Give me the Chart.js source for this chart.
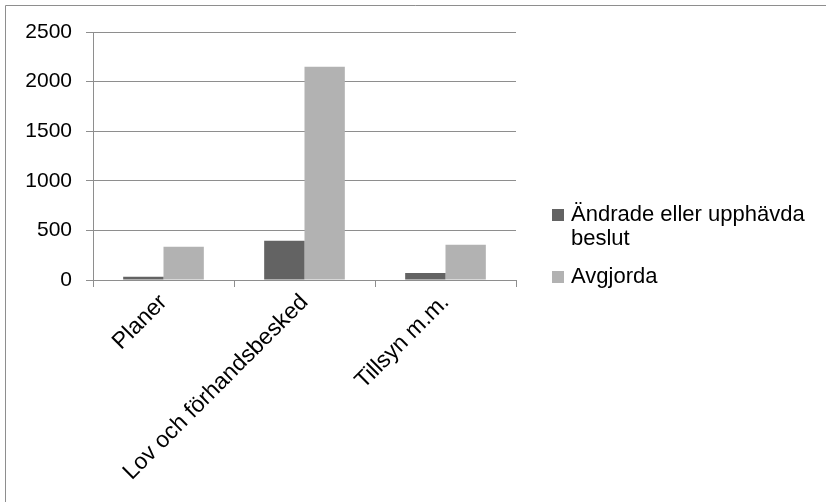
<!DOCTYPE html>
<html>
<head>
<meta charset="utf-8">
<script src="https://cdn.jsdelivr.net/npm/chart.js@4/dist/chart.umd.min.js"></script>
<style>
  html, body { margin: 0; padding: 0; background: #ffffff; }
  #wrap { width: 826px; height: 502px; }
</style>
</head>
<body>
<div id="wrap"><canvas id="chart" width="826" height="502"></canvas></div>
<script>
// Categories and series
const categories = ['Planer', 'Lov och förhandsbesked', 'Tillsyn m.m.'];
const seriesNames = ['Ändrade eller upphävda beslut', 'Avgjorda'];
const andrade = [33, 395, 70];
const avgjorda = [335, 2150, 355];
const yTickValues = [0, 500, 1000, 1500, 2000, 2500];

const FONT = '"Liberation Sans", Arial, sans-serif';
const GRID = '#8e8e8e';

// Outer frame and white background
const framePlugin = {
  id: 'frame',
  beforeDraw(chart) {
    const ctx = chart.ctx;
    ctx.save();
    ctx.fillStyle = '#ffffff';
    ctx.fillRect(0, 0, chart.width, chart.height);
    ctx.strokeStyle = GRID;
    ctx.lineWidth = 1;
    ctx.beginPath();
    ctx.moveTo(5.5, chart.height);
    ctx.lineTo(5.5, 5.5);
    ctx.lineTo(chart.width, 5.5);
    ctx.stroke();
    ctx.restore();
  }
};

// Legend on the right with wrapped labels
const sideLegend = {
  id: 'sideLegend',
  afterDraw(chart, args, opts) {
    const ctx = chart.ctx;
    ctx.save();
    ctx.font = opts.fontSize + 'px ' + FONT;
    ctx.textBaseline = 'alphabetic';
    ctx.textAlign = 'left';
    let y = opts.top;
    chart.data.datasets.forEach(ds => {
      // wrap words into lines
      const words = ds.label.split(' ');
      const lines = [];
      let cur = '';
      words.forEach(w => {
        const test = cur ? cur + ' ' + w : w;
        if (ctx.measureText(test).width > opts.maxWidth && cur) {
          lines.push(cur);
          cur = w;
        } else {
          cur = test;
        }
      });
      if (cur) lines.push(cur);
      ctx.fillStyle = ds.backgroundColor;
      ctx.fillRect(opts.left, y - opts.box, opts.box, opts.box);
      ctx.fillStyle = '#000000';
      lines.forEach((ln, i) => {
        ctx.fillText(ln, opts.left + opts.box + 7, y + i * opts.lineHeight);
      });
      y += (lines.length - 1) * opts.lineHeight + opts.itemGap;
    });
    ctx.restore();
  }
};

new Chart(document.getElementById('chart'), {
  type: 'bar',
  data: {
    labels: categories,
    datasets: [
      { label: seriesNames[0], data: andrade, backgroundColor: '#636363' },
      { label: seriesNames[1], data: avgjorda, backgroundColor: '#b2b2b2' }
    ]
  },
  options: {
    responsive: false,
    animation: false,
    devicePixelRatio: 1,
    layout: { padding: { left: 0, top: 32, right: 310, bottom: 0 } },
    datasets: {
      bar: { categoryPercentage: 0.572, barPercentage: 1.0, borderWidth: 0 }
    },
    plugins: {
      legend: { display: false },
      tooltip: { enabled: false },
      sideLegend: { left: 552, top: 221, box: 12, fontSize: 22, lineHeight: 24, itemGap: 38, maxWidth: 255 }
    },
    scales: {
      x: {
        grid: { offset: true, drawOnChartArea: false, drawTicks: true, tickLength: 7, color: GRID },
        border: { color: GRID, width: 1 },
        ticks: {
          autoSkip: false, maxRotation: 45, minRotation: 45, color: '#000000', padding: 2,
          font: { family: FONT, size: 23 }
        },
        afterFit(scale) { scale.height = 222; }
      },
      y: {
        min: 0, max: 2500,
        afterBuildTicks(scale) { scale.ticks = yTickValues.map(v => ({ value: v })); },
        grid: { color: GRID, tickLength: 7, drawTicks: true },
        border: { color: GRID, width: 1 },
        ticks: {
          color: '#000000', padding: 14,
          font: { family: FONT, size: 21 },
          callback: v => String(v)
        },
        afterFit(scale) { scale.width = 93; }
      }
    }
  },
  plugins: [framePlugin, sideLegend]
});
</script>
</body>
</html>
